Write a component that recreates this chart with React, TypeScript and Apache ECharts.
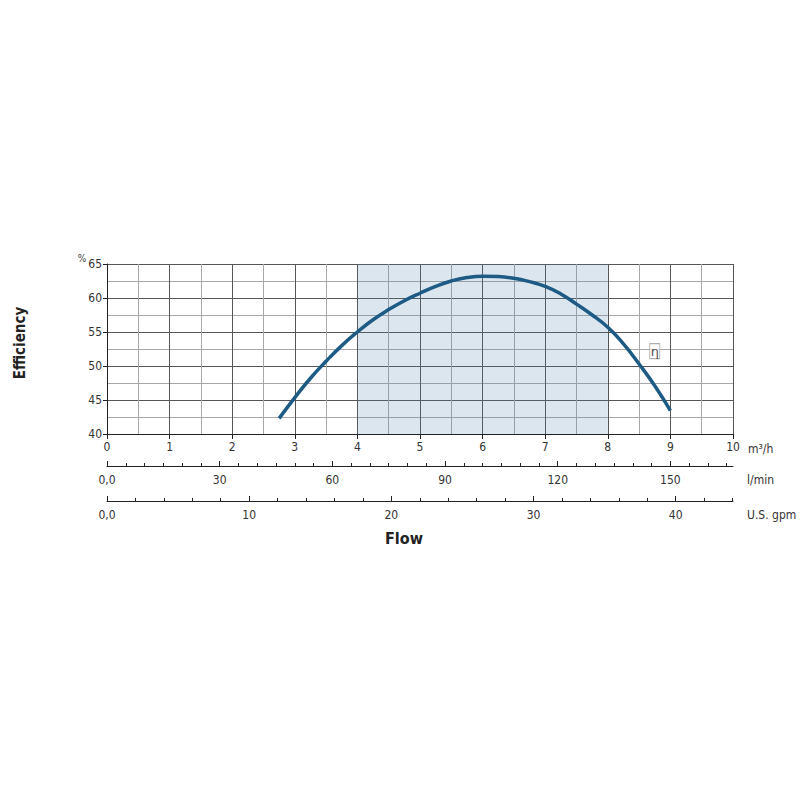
import React, { useEffect, useRef } from "react";
import * as echarts from "echarts";

// Efficiency curve (flow in m³/h, efficiency in %)
const flowM3h = [2.75, 3.0, 3.25, 3.5, 3.75, 4.0, 4.25, 4.5, 4.75, 5.0, 5.25, 5.5, 5.75, 6.0, 6.25, 6.5, 6.75, 7.0, 7.25, 7.5, 7.75, 8.0, 8.25, 8.5, 8.75, 9.0];
const efficiency = [42.3, 45.35, 48.2, 50.7, 53.0, 55.0, 56.8, 58.3, 59.6, 60.7, 61.7, 62.5, 63.0, 63.2, 63.15, 62.9, 62.4, 61.7, 60.6, 59.1, 57.5, 55.7, 53.25, 50.3, 47.1, 43.45];

// shaded recommended range (m³/h)
const rangeStart = 4;
const rangeEnd = 8;

// curve label position
const etaLabel = [8.75, 52.2];

// axis ranges
const flowMax = 10; // m³/h
const lminMax = (flowMax * 1000) / 60; // l/min
const gpmMax = (flowMax * 1000) / 60 / 3.785411784; // US gpm
const lminLabels = [0, 30, 60, 90, 120, 150];
const gpmLabels = [0, 10, 20, 30, 40];

const FONT = "'Liberation Sans Narrow', 'DejaVu Sans Condensed', 'Arial Narrow', sans-serif";
const MAJOR = "#555555";
const MINOR = "#a8a8a8";
const CURVE = "#1d5b85";

export default function App() {
  const ref = useRef<HTMLDivElement>(null);
  useEffect(() => {
    document.body.style.margin = "0";
    const chart = echarts.init(ref.current!, null, { renderer: "svg" });
    const fmt0 = (v: number) => (v === 0 ? "0,0" : String(Math.round(v)));
    const option: any = {
      animation: false,
      backgroundColor: "#ffffff",
      textStyle: { fontFamily: FONT },
      grid: { left: 107, right: 67, top: 264, bottom: 366, containLabel: false, outerBoundsMode: "none" },
      xAxis: [
        {
          type: "value",
          min: 0,
          max: flowMax,
          interval: 1,
          position: "bottom",
          name: "m³/h",
          nameLocation: "end",
          nameGap: 15,
          nameTextStyle: { fontFamily: FONT, fontSize: 12, color: "#333", verticalAlign: "top", padding: [9, 0, 0, 0] },
          axisLine: { show: true, onZero: false, lineStyle: { color: "#222", width: 1 } },
          axisTick: { show: true, inside: false, length: 5, lineStyle: { color: "#222" } },
          axisLabel: { fontFamily: FONT, fontSize: 12, color: "#333", margin: 7 },
          splitLine: { show: true, lineStyle: { color: MAJOR, width: 1 } },
          minorTick: { show: false, splitNumber: 2 },
          minorSplitLine: { show: true, lineStyle: { color: MINOR, width: 1 } },
        },
        {
          type: "value",
          min: 0,
          max: lminMax,
          interval: 30,
          position: "bottom",
          offset: 32,
          name: "l/min",
          nameLocation: "end",
          nameGap: 14,
          nameTextStyle: { fontFamily: FONT, fontSize: 12, color: "#333", verticalAlign: "top", padding: [8, 0, 0, 0] },
          axisLine: { show: true, onZero: false, lineStyle: { color: "#222", width: 1 } },
          axisTick: { show: true, inside: true, length: 5, customValues: lminLabels, lineStyle: { color: "#222" } },
          minorTick: { show: true, splitNumber: 6, length: 3, lineStyle: { color: "#222" } },
          axisLabel: { fontFamily: FONT, fontSize: 12, color: "#333", margin: 8, customValues: lminLabels, formatter: fmt0 },
          splitLine: { show: false },
        },
        {
          type: "value",
          min: 0,
          max: gpmMax,
          interval: 10,
          position: "bottom",
          offset: 67,
          name: "U.S. gpm",
          nameLocation: "end",
          nameGap: 14,
          nameTextStyle: { fontFamily: FONT, fontSize: 12, color: "#333", verticalAlign: "top", padding: [8, 0, 0, 0] },
          axisLine: { show: true, onZero: false, lineStyle: { color: "#222", width: 1 } },
          axisTick: { show: true, inside: true, length: 5, customValues: gpmLabels, lineStyle: { color: "#222" } },
          minorTick: { show: true, splitNumber: 5, length: 3, lineStyle: { color: "#222" } },
          axisLabel: { fontFamily: FONT, fontSize: 12, color: "#333", margin: 8, customValues: gpmLabels, formatter: fmt0 },
          splitLine: { show: false },
        },
      ],
      yAxis: [
        {
          type: "value",
          min: 40,
          max: 65,
          interval: 5,
          axisLine: { show: true, onZero: false, lineStyle: { color: "#222", width: 1 } },
          axisTick: { show: true, inside: false, length: 4, lineStyle: { color: "#222" } },
          axisLabel: { fontFamily: FONT, fontSize: 12, color: "#333", margin: 5 },
          splitLine: { show: true, lineStyle: { color: MAJOR, width: 1 } },
          minorTick: { show: false, splitNumber: 2 },
          minorSplitLine: { show: true, lineStyle: { color: MINOR, width: 1 } },
        },
      ],
      graphic: [
        { type: "text", x: 82, y: 258, style: { text: "%", fontFamily: FONT, fontSize: 10, fill: "#444", align: "center", verticalAlign: "middle" } },
        {
          type: "text",
          x: 20,
          y: 343,
          rotation: Math.PI / 2,
          style: { text: "Efficiency", fontFamily: FONT, fontSize: 15, fontWeight: "bold", fill: "#222", align: "center", verticalAlign: "middle" },
        },
        { type: "text", x: 404, y: 538, style: { text: "Flow", fontFamily: FONT, fontSize: 16, fontWeight: "bold", fill: "#222", align: "center", verticalAlign: "middle" } },
      ],
      series: [
        {
          type: "line",
          xAxisIndex: 0,
          yAxisIndex: 0,
          data: flowM3h.map((f, i) => [f, efficiency[i]]),
          smooth: 0.5,
          showSymbol: false,
          symbol: "none",
          lineStyle: { color: CURVE, width: 3.5 },
          z: 3,
          markArea: {
            silent: true,
            itemStyle: { color: "rgba(80,130,175,0.2)" },
            data: [[{ xAxis: rangeStart }, { xAxis: rangeEnd }]],
          },
        },
        {
          type: "scatter",
          xAxisIndex: 0,
          yAxisIndex: 0,
          data: [etaLabel],
          symbol: "rect",
          symbolSize: [10, 15],
          itemStyle: { color: "#ffffff", borderColor: "#9a9a9a", borderWidth: 1 },
          z: 4,
          label: {
            show: true,
            position: "inside",
            formatter: "η",
            fontFamily: "'DejaVu Sans', sans-serif",
            fontSize: 13,
            color: "#1a1a1a",
            textBorderWidth: 0,
          },
        },
      ],
    };
    chart.setOption(option);
    return () => chart.dispose();
  }, []);
  return <div ref={ref} style={{ width: 800, height: 800 }} />;
}
